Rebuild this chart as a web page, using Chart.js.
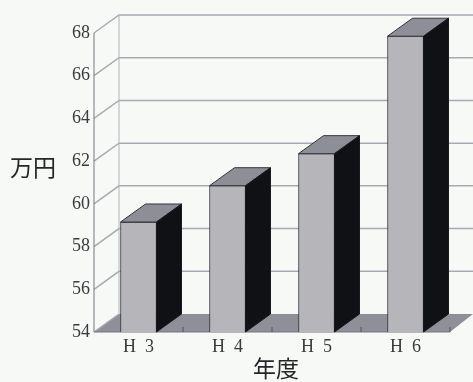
<!DOCTYPE html>
<html>
<head>
<meta charset="utf-8">
<script src="https://cdn.jsdelivr.net/npm/chart.js"></script>
<style>
	html, body { margin: 0; padding: 0; background: #f7f9f7; }
	#wrap { width: 473px; height: 382px; }
</style>
</head>
<body>
<div id="wrap"><canvas id="chart" width="473" height="382"></canvas></div>
<script>
const years = ["H  3", "H  4", "H  5", "H  6"];
const amounts = [59.15, 60.85, 62.35, 67.85];
const yTicks = [54, 56, 58, 60, 62, 64, 66, 68];
const yTitle = "万円";
const xTitle = "年度";

const serif = '"Liberation Serif", "Noto Sans CJK JP", serif';
const depthX = 25;
const depthY = -18;

function poly(ctx, pts, fill, stroke) {
	ctx.beginPath();
	pts.forEach((p, i) => (i ? ctx.lineTo(p[0], p[1]) : ctx.moveTo(p[0], p[1])));
	ctx.closePath();
	ctx.fillStyle = fill;
	ctx.fill();
	if (stroke) {
		ctx.strokeStyle = stroke;
		ctx.lineWidth = 1;
		ctx.stroke();
	}
}

// back wall, floor and slanted grid lines behind the bars
const wallPlugin = {
	id: "wall",
	beforeDatasetsDraw(chart) {
		const { ctx, chartArea: area, scales } = chart;
		const rightEdge = chart.width;
		ctx.save();
		poly(ctx, [
			[area.left, area.bottom],
			[area.left + depthX, area.bottom + depthY],
			[rightEdge, area.bottom + depthY],
			[area.right, area.bottom]
		], "#8f8f98");

		ctx.strokeStyle = "#a9a9b2";
		ctx.lineWidth = 1.5;
		yTicks.forEach((v) => {
			const y = scales.y.getPixelForValue(v);
			ctx.beginPath();
			ctx.moveTo(area.left, y);
			ctx.lineTo(area.left + depthX, y + depthY);
			if (v !== yTicks[0]) ctx.lineTo(rightEdge, y + depthY);
			ctx.stroke();
		});

		ctx.strokeStyle = "#b4b4bc";
		ctx.lineWidth = 1;
		ctx.beginPath();
		ctx.moveTo(area.left + depthX, area.top + depthY);
		ctx.lineTo(area.left + depthX, area.bottom + depthY);
		ctx.stroke();

		ctx.strokeStyle = "#77777f";
		ctx.beginPath();
		ctx.moveTo(area.left, area.top);
		ctx.lineTo(area.left, area.bottom);
		ctx.moveTo(area.left, area.bottom);
		ctx.lineTo(area.right, area.bottom);
		ctx.stroke();

		// category tick marks on the base line
		const step = scales.x.getPixelForValue(1) - scales.x.getPixelForValue(0);
		ctx.strokeStyle = "#55555c";
		years.forEach((_, i) => {
			const x = scales.x.getPixelForValue(i) + step / 2;
			ctx.beginPath();
			ctx.moveTo(x, area.bottom - 5);
			ctx.lineTo(x, area.bottom);
			ctx.stroke();
		});
		ctx.restore();
	},
	// top and side faces follow the bar the library placed
	afterDatasetsDraw(chart) {
		const { ctx } = chart;
		const edge = "#33333a";
		ctx.save();
		chart.getDatasetMeta(0).data.forEach((bar) => {
			const half = bar.width / 2;
			const l = bar.x - half;
			const r = bar.x + half;
			poly(ctx, [
				[l, bar.y],
				[l + depthX, bar.y + depthY],
				[r + depthX, bar.y + depthY],
				[r, bar.y]
			], "#8e8e97", edge);
			poly(ctx, [
				[r, bar.y],
				[r + depthX, bar.y + depthY],
				[r + depthX, bar.base + depthY],
				[r, bar.base]
			], "#101114", "#1a1a1e");
		});
		// axis titles sit off-centre in the picture, so they are placed by hand
		ctx.fillStyle = "#262628";
		ctx.font = "23px " + serif;
		ctx.textAlign = "center";
		ctx.textBaseline = "middle";
		ctx.fillText(yTitle, 33, 170);
		ctx.fillText(xTitle, 276, 371);
		ctx.restore();
	}
};

new Chart(document.getElementById("chart").getContext("2d"), {
	type: "bar",
	data: {
		labels: years,
		datasets: [
			{
				data: amounts,
				base: yTicks[0],
				backgroundColor: "#b5b5ba",
				borderColor: "#3a3a40",
				borderWidth: 1,
				barThickness: 36
			}
		]
	},
	options: {
		responsive: false,
		animation: false,
		layout: { padding: { left: 0, right: 23, top: 33, bottom: 0 } },
		plugins: { legend: { display: false }, tooltip: { enabled: false } },
		scales: {
			x: {
				grid: { display: false, drawTicks: false },
				border: { display: false },
				ticks: { color: "#3a3a3c", padding: 4, font: { family: serif, size: 18 } },
				afterFit: (scale) => { scale.height = 50; }
			},
			y: {
				min: yTicks[0],
				max: yTicks[yTicks.length - 1],
				grid: { display: false, drawTicks: false },
				border: { display: false },
				ticks: {
					stepSize: 2,
					color: "#3a3a3c",
					padding: 4,
					font: { family: serif, size: 18 }
				},
				afterFit: (scale) => { scale.width = 94; }
			}
		}
	},
	plugins: [wallPlugin]
});
</script>
</body>
</html>
